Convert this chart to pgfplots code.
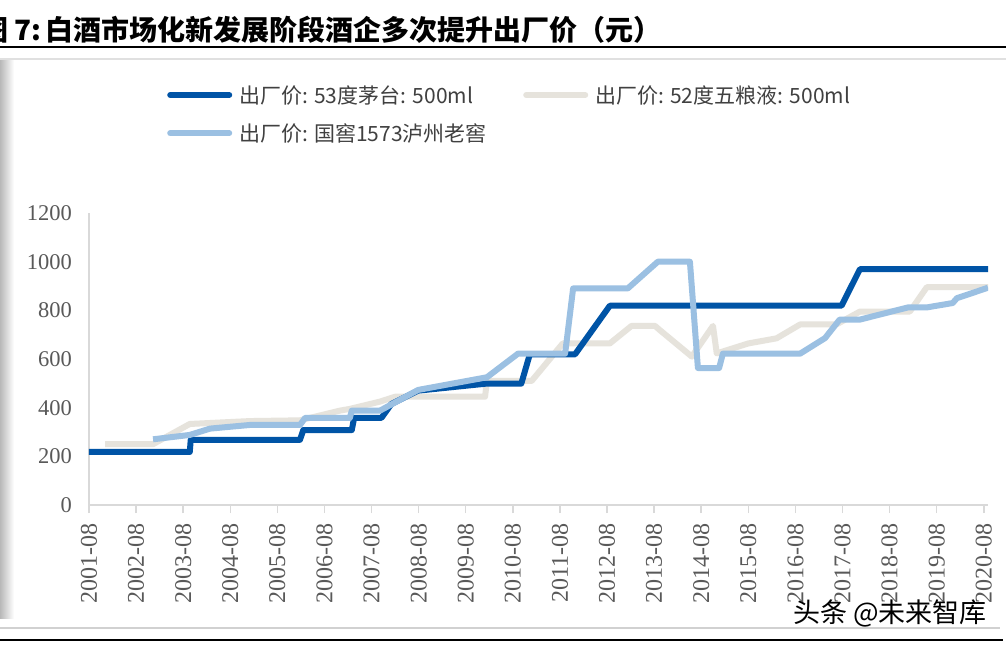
\documentclass[border=0pt]{standalone}
\usepackage{fontspec}
\setmainfont{Liberation Serif}
\newfontfamily\cjk{Noto Sans CJK SC}
\usepackage{pgfplots}
\pgfplotsset{compat=1.18}

\definecolor{mtblue}{HTML}{0054A6}
\definecolor{wlgrey}{HTML}{E6E3DC}
\definecolor{lzblue}{HTML}{9BC0E2}
\definecolor{axgrey}{HTML}{D9D9D9}
\definecolor{tkgrey}{HTML}{595959}
\definecolor{lgtext}{HTML}{404040}

% x = years since 2001-08
\pgfplotstableread{
t v
0     218
2.14  218
2.16  268
4.48  268
4.55  308
5.58  308
5.63  358
6.21  358
6.42  415
6.99  470
8.45  499
9.18  499
9.36  619
10.32 619
11.06 819
15.98 819
16.37 969
19.09 969
}\moutai

\pgfplotstableread{
t v
0.34  250
1.36  250
2.14  333
3.42  345
4.48  348
5.33  388
5.54  395
6.18  425
6.50  445
8.41  445
8.45  510
9.40  510
10.06 664
11.06 664
11.52 736
12.02 736
12.12 719
12.80 610
13.25 736
13.33 623
14.00 664
14.60 685
15.10 742
15.87 742
16.37 795
17.43 795
17.79 895
19.09 895
}\wuliang

\pgfplotstableread{
t v
1.36  270
2.14  288
2.57  314
3.42  329
4.48  329
4.59  358
5.54  358
5.58  388
6.18  388
6.99  473
8.45  525
9.11  622
10.11 622
10.28 890
11.44 890
12.08 1000
12.76 1000
12.93 563
13.38 563
13.46 622
15.10 622
15.63 686
15.94 762
16.37 762
17.39 812
17.79 812
18.34 830
18.43 850
19.09 893
}\luzhou

\begin{document}
\begin{tikzpicture}[x=1pt,y=1pt]
\useasboundingbox (0,0) rectangle (1006,-645);
\fill[white] (0,0) rectangle (1006,-645);
\shade[left color=black!28, right color=white] (0,-58) rectangle (14,-618);

% title
\node[anchor=east, inner sep=0pt, font=\cjk\bfseries\fontsize{28}{30}\selectfont] at (42,-30) {图 7:};
\node[anchor=west, inner sep=0pt, font=\cjk\bfseries\fontsize{28}{30}\selectfont] at (45,-30) {白酒市场化新发展阶段酒企多次提升出厂价（元）};
\draw[black, line width=2pt] (0,-47) -- (1006,-47);
\draw[black!12, line width=1.5pt] (0,-59) -- (1006,-59);
\draw[black!18, line width=1.5pt] (0,-628) -- (1000,-628);
\draw[black, line width=1.5pt] (0,-640) -- (1003,-640);

\begin{axis}[
  at={(89pt,-505pt)}, anchor=south west,
  scale only axis, width=899pt, height=292pt,
  xmin=0, xmax=19.09, ymin=0, ymax=1200,
  axis x line*=bottom, axis y line*=left,
  axis line style={draw=axgrey, line width=1.5pt},
  tick align=outside, major tick length=8pt,
  xtick style={draw=axgrey, line width=1.5pt},
  ytick style={draw=none},
  xtick={0,...,19},
  xticklabels={2001-08,2002-08,2003-08,2004-08,2005-08,2006-08,2007-08,
    2008-08,2009-08,2010-08,2011-08,2012-08,2013-08,2014-08,2015-08,
    2016-08,2017-08,2018-08,2019-08,2020-08},
  ytick={0,200,...,1200},
  /pgf/number format/assume math mode=true,
  /pgf/number format/1000 sep={},
  ticklabel style={text=tkgrey},
  xticklabel style={rotate=90, anchor=east, inner sep=0pt, xshift=-10pt,
    font=\fontsize{24}{24}\selectfont},
  yticklabel style={anchor=east, inner sep=0pt, xshift=-9pt,
    font=\fontsize{22.5}{23}\selectfont},
  legend image code/.code={\draw[#1, line cap=round] (0pt,0pt) -- (59pt,0pt);},
  legend style={at={(0.0868,1.438)}, anchor=north west, draw=none, fill=none,
    inner sep=0pt, legend columns=2, nodes={inner sep=0pt},
    /tikz/column sep=0pt, /tikz/row sep=19pt,
    font=\cjk\fontsize{21}{24}\selectfont, text=lgtext},
  legend cell align=left,
]
\addlegendimage{mtblue, line width=6pt}
\addlegendentry{\hspace*{7pt}\makebox[284pt][l]{出厂价: 53度茅台: 500ml}}
\addlegendimage{wlgrey, line width=6pt}
\addlegendentry{\hspace*{7pt}\makebox[280pt][l]{出厂价: 52度五粮液: 500ml}}
\addlegendimage{lzblue, line width=6pt}
\addlegendentry{\hspace*{7pt}\makebox[284pt][l]{出厂价: 国窖1573泸州老窖}}

\addplot[wlgrey, line width=6pt, line join=round, forget plot] table[x=t, y=v] {\wuliang};
\addplot[mtblue, line width=6pt, line join=round, forget plot] table[x=t, y=v] {\moutai};
\addplot[lzblue, line width=6pt, line join=round, forget plot] table[x=t, y=v] {\luzhou};
\end{axis}

\node[anchor=east, inner sep=0pt, font=\cjk\fontsize{27}{28}\selectfont] at (987,-613) {头条 @未来智库};
\end{tikzpicture}
\end{document}
